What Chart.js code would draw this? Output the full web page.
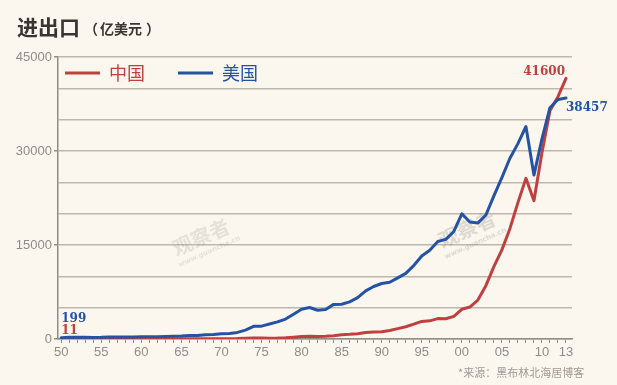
<!DOCTYPE html>
<html>
<head>
<meta charset="utf-8">
<script src="https://cdn.jsdelivr.net/npm/chart.js@4/dist/chart.umd.min.js"></script>
<style>
	body { margin: 0; background: #fcf7ee; }
	.container { position: relative; width: 617px; height: 385px; }
</style>
</head>
<body>
<div class="container"><canvas id="myChart"></canvas></div>
<script>

// 年份 1950 - 2013
const years = [
	1950, 1951, 1952, 1953, 1954, 1955, 1956, 1957, 1958, 1959,
	1960, 1961, 1962, 1963, 1964, 1965, 1966, 1967, 1968, 1969,
	1970, 1971, 1972, 1973, 1974, 1975, 1976, 1977, 1978, 1979,
	1980, 1981, 1982, 1983, 1984, 1985, 1986, 1987, 1988, 1989,
	1990, 1991, 1992, 1993, 1994, 1995, 1996, 1997, 1998, 1999,
	2000, 2001, 2002, 2003, 2004, 2005, 2006, 2007, 2008, 2009,
	2010, 2011, 2012, 2013
];

// 中国 进出口（亿美元）
const china_trade = [
	11, 20, 19, 24, 24, 31, 32, 31, 39, 44,
	38, 29, 27, 29, 35, 43, 46, 42, 41, 40,
	46, 48, 63, 110, 146, 148, 134, 148, 206, 293,
	381, 440, 416, 436, 536, 696, 739, 827, 1028, 1117,
	1154, 1357, 1655, 1957, 2366, 2809, 2899, 3252, 3240, 3606,
	4743, 5097, 6208, 8510, 11546, 14219, 17604, 21766, 25633, 22075,
	29740, 36419, 38671, 41600
];

// 美国 进出口（亿美元）
const us_trade = [
	199, 260, 260, 267, 253, 269, 316, 339, 308, 329,
	344, 347, 371, 393, 442, 480, 548, 576, 666, 722,
	824, 889, 1052, 1419, 2021, 2053, 2389, 2727, 3181, 3964,
	4741, 5021, 4588, 4707, 5523, 5540, 5917, 6600, 7674, 8376,
	8858, 9051, 9761, 10463, 11716, 13246, 14152, 15552, 15890, 17158,
	19980, 18669, 18498, 19783, 22846, 25764, 28845, 31176, 33910, 26156,
	31924, 36905, 38221, 38457
];

const x_labels = [1950, 1955, 1960, 1965, 1970, 1975, 1980, 1985, 1990, 1995, 2000, 2005, 2010, 2013];
const y_labels = [0, 15000, 30000, 45000];

const red = '#c1403f';
const blue = '#2453a6';
const grid_color = '#bdb7ad';
const label_color = '#918c86';


function getPoints(values)
{
	return years.map((year, i) => ({x: year, y: values[i]}));
}


const extrasPlugin = {
	id: 'extras',

	beforeDatasetsDraw(chart)
	{
		const ctx = chart.ctx;
		ctx.save();

		// 水印
		const marks = [[470, 236, 0.3], [204, 244, 0.22]];
		for (let mark of marks)
		{
			ctx.save();
			ctx.translate(mark[0], mark[1]);
			ctx.rotate(-0.42);
			ctx.fillStyle = 'rgba(150, 145, 140, ' + mark[2] + ')';
			ctx.textAlign = 'center';
			ctx.font = 'bold 20px "Noto Sans CJK SC"';
			ctx.fillText('观察者', 0, 0);
			ctx.font = 'bold 7px "DejaVu Sans"';
			ctx.fillText('www.guancha.cn', 2, 11);
			ctx.restore();
		}

		ctx.restore();
	},

	afterDraw(chart)
	{
		const ctx = chart.ctx;
		const xs = chart.scales.x;
		const ys = chart.scales.y;
		ctx.save();

		// 标题
		ctx.fillStyle = '#3a3533';
		ctx.textBaseline = 'alphabetic';
		ctx.font = 'bold 21px "Noto Sans CJK SC"';
		ctx.fillText('进出口', 17, 35);
		ctx.font = 'bold 14px "Noto Sans CJK SC"';
		ctx.fillText('（', 84, 34);
		ctx.fillText('亿美元', 100, 34);
		ctx.fillText('）', 146, 34);

		// 图例
		const legend = [[red, '中国', 65], [blue, '美国', 178]];
		ctx.lineWidth = 3;
		ctx.font = '18px "Noto Sans CJK SC"';
		for (let item of legend)
		{
			ctx.strokeStyle = item[0];
			ctx.beginPath();
			ctx.moveTo(item[2], 73);
			ctx.lineTo(item[2] + 35, 73);
			ctx.stroke();
			ctx.fillStyle = item[0];
			ctx.fillText(item[1], item[2] + 44, 80);
		}

		// 首尾数值
		const last = years.length - 1;
		ctx.font = 'bold 12px "DejaVu Serif"';

		ctx.fillStyle = blue;
		ctx.textAlign = 'left';
		ctx.fillText(us_trade[0], xs.getPixelForValue(years[0]), ys.getPixelForValue(us_trade[0]) - 16);
		ctx.fillText(us_trade[last], xs.getPixelForValue(years[last]), ys.getPixelForValue(us_trade[last]) + 13);

		ctx.fillStyle = red;
		ctx.fillText(china_trade[0], xs.getPixelForValue(years[0]), ys.getPixelForValue(china_trade[0]) - 5);
		ctx.textAlign = 'right';
		ctx.fillText(china_trade[last], xs.getPixelForValue(years[last]) - 1, ys.getPixelForValue(china_trade[last]) - 3);

		// 来源
		ctx.textAlign = 'left';
		ctx.fillStyle = '#a09a94';
		ctx.font = '11px "Noto Sans CJK SC"';
		ctx.fillText('*来源：黑布林北海居博客', 458, 377);

		ctx.restore();
	}
};


window.onload = function(){

	const canvas = document.getElementById('myChart').getContext('2d');

	new Chart(canvas, {
		type: 'line',
		data: {
			datasets: [
				{
					label: '美国',
					data: getPoints(us_trade),
					borderColor: blue,
					order: 0
				},
				{
					label: '中国',
					data: getPoints(china_trade),
					borderColor: red,
					order: 1
				}
			]
		},
		options: {
			responsive: true,
			maintainAspectRatio: false,
			animation: false,
			events: [],
			layout: {
				padding: {left: 0, top: 57, right: 45, bottom: 0}
			},
			elements: {
				point: {radius: 0},
				line: {borderWidth: 3, tension: 0, borderJoinStyle: 'round', borderCapStyle: 'round'}
			},
			plugins: {
				legend: {display: false},
				tooltip: {enabled: false}
			},
			scales: {
				x: {
					type: 'linear',
					min: 1949.6,
					max: 2013.75,
					afterBuildTicks: (scale) => { scale.ticks = years.map((v) => ({value: v})); },
					afterFit: (scale) => { scale.height = 46; },
					grid: {
						drawOnChartArea: false,
						tickLength: 4,
						tickColor: label_color
					},
					border: {color: label_color, width: 1.5},
					ticks: {
						autoSkip: false,
						maxRotation: 0,
						padding: 2,
						color: label_color,
						font: {family: 'Liberation Sans', size: 13},
						callback: (v) => x_labels.includes(v) ? String(v % 100).padStart(2, '0') : ''
					}
				},
				y: {
					min: 0,
					max: 45000,
					afterFit: (scale) => { scale.width = 58; },
					grid: {
						color: grid_color,
						lineWidth: 1.5,
						tickLength: 4,
						tickColor: (c) => y_labels.includes(c.tick.value) ? label_color : 'transparent'
					},
					border: {color: label_color, width: 1.5},
					ticks: {
						stepSize: 5000,
						padding: 2,
						color: label_color,
						font: {family: 'Liberation Sans', size: 13},
						callback: (v) => y_labels.includes(v) ? v : ''
					}
				}
			}
		},
		plugins: [extrasPlugin]
	});

};

</script>
</body>
</html>
